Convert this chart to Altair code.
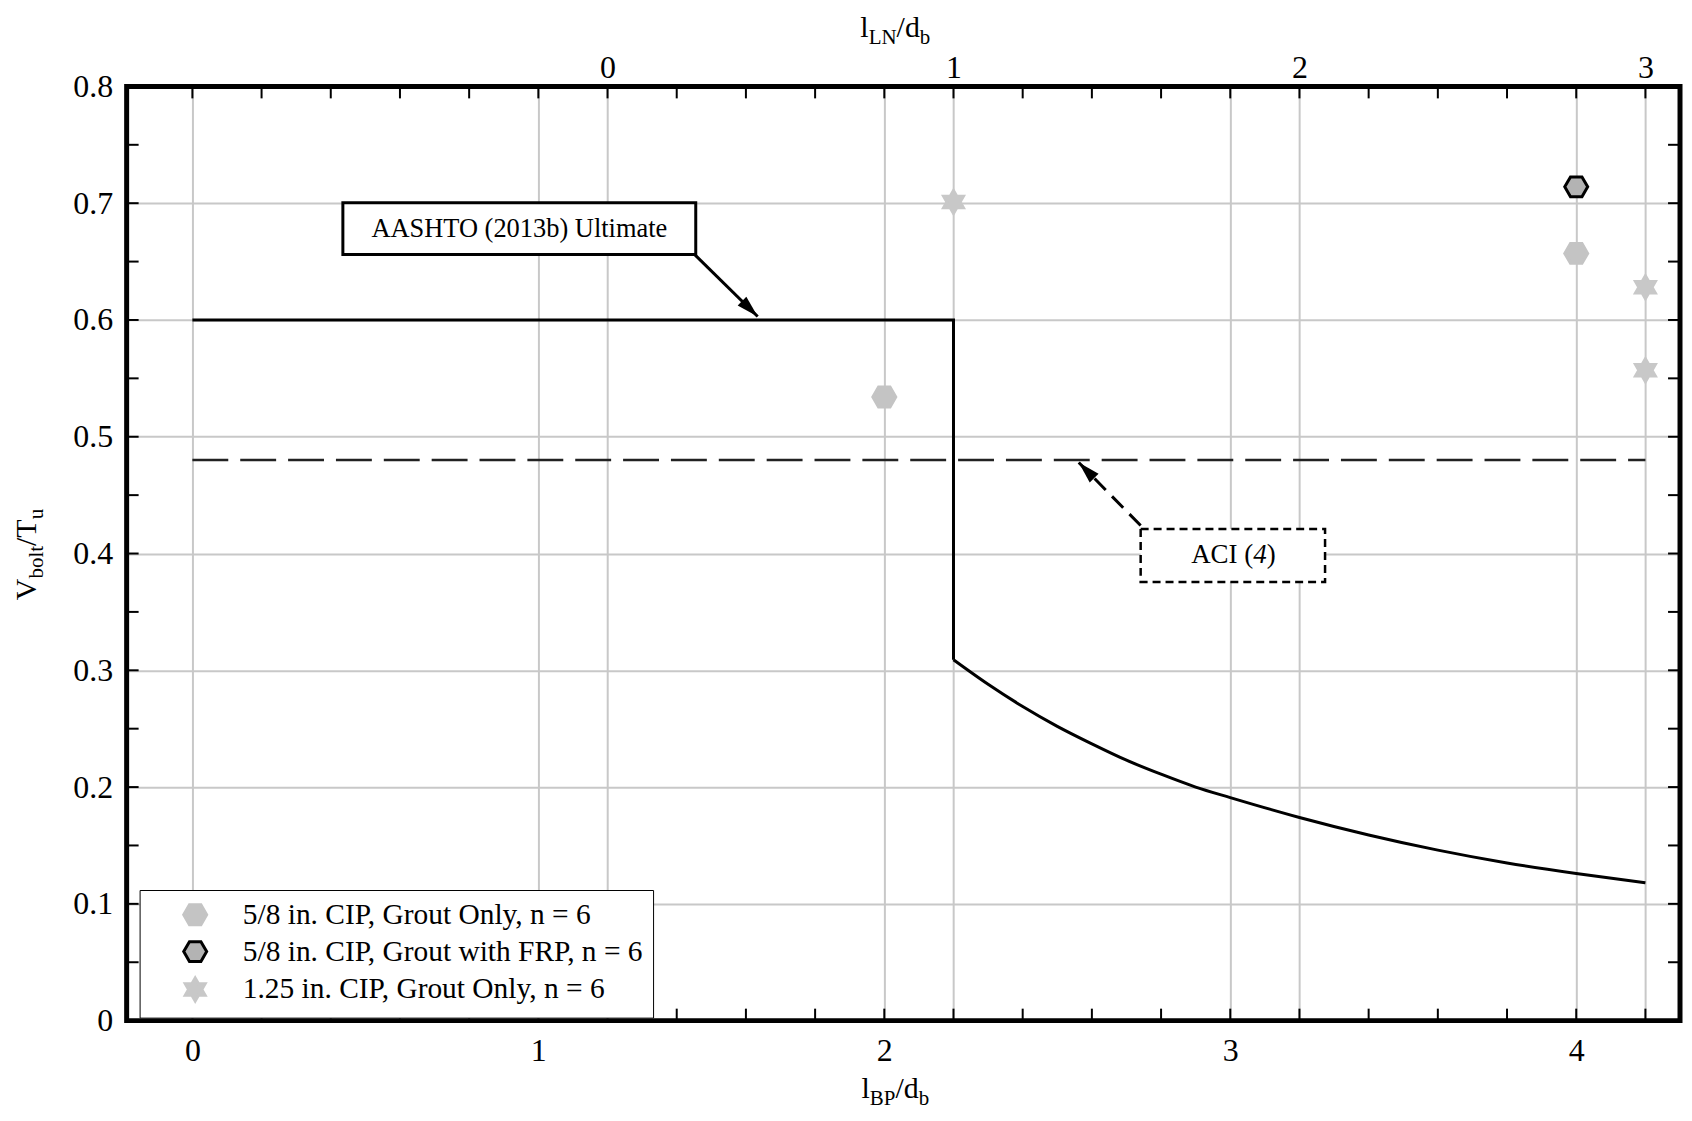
import math
import altair as alt
import pandas as pd

# ---------------- data ----------------
# AASHTO (2013b) Ultimate: constant part, then the decaying curve
aashto_step_x = [0.0, 2.2, 2.2]
aashto_step_y = [0.6, 0.6, 0.309]
aashto_curve_x = [2.2, 2.3, 2.4, 2.5, 2.6, 2.7, 2.8, 2.9, 3.0, 3.2, 3.4, 3.6, 3.8, 4.0, 4.2]
aashto_curve_y = [0.309, 0.288, 0.269, 0.252, 0.237, 0.223, 0.211, 0.200, 0.191, 0.174, 0.159, 0.146, 0.135, 0.126, 0.118]

# ACI (4) level
aci_x = [0.0, 4.2]
aci_y = [0.48, 0.48]

series_names = [
    "5/8 in. CIP, Grout Only, n = 6",
    "5/8 in. CIP, Grout with FRP, n = 6",
    "1.25 in. CIP, Grout Only, n = 6",
]
s1_x = [2.0, 4.0]
s1_y = [0.534, 0.657]
s2_x = [4.0]
s2_y = [0.714]
s3_x = [2.2, 4.2, 4.2]
s3_y = [0.701, 0.628, 0.557]

bottom_tick_values = [0, 1, 2, 3, 4]
top_offset = 1.2                        # l_LN/d_b = l_BP/d_b - 1.2
top_tick_values = [1.2, 2.2, 3.2, 4.2]  # l_LN/d_b = 0, 1, 2, 3
y_tick_values = [0.0, 0.1, 0.2, 0.3, 0.4, 0.5, 0.6, 0.7, 0.8]
minor_x = [round(0.2 * i, 1) for i in range(22)]
minor_y = [round(0.05 * i, 2) for i in range(17)]

aashto_label = "AASHTO  (2013b) Ultimate"
aashto_box = {"x": [0.435], "x2": [1.455], "y": [0.656], "y2": [0.7003]}
aashto_text_pos = {"x": [0.945], "y": [0.678]}
aashto_arrow = {"x": [1.452], "y": [0.656], "x2": [1.634], "y2": [0.603]}

aci_box = {"x": [2.741], "x2": [3.274], "y": [0.3757], "y2": [0.421]}
aci_text_pos = {"x": [3.009], "y": [0.399]}
aci_arrow = {"x": [2.741], "y": [0.424], "x2": [2.562], "y2": [0.478]}

# ---------------- layout ----------------
W, H = 1558, 937
XMIN, XMAX = -0.19, 4.3
YMIN, YMAX = 0.0, 0.8
FONT = "Liberation Serif"
GRID = "#c8c8c8"

xs = alt.Scale(domain=[XMIN, XMAX], nice=False, zero=False)
ys = alt.Scale(domain=[YMIN, YMAX], nice=False, zero=False)

one = pd.DataFrame({"a": [0]})

common_axis = dict(
    title=None, grid=True, gridColor=GRID, gridWidth=2, ticks=False, tickSize=0,
    domain=False, labelFont=FONT, labelFontSize=32, labelColor="black",
    labelFlush=False, labelOverlap=False, labelBound=False,
)
bottom_axis = alt.Axis(orient="bottom", values=bottom_tick_values, format="d",
                       labelPadding=15, **common_axis)
top_axis = alt.Axis(orient="top", values=top_tick_values,
                    labelExpr=f"format(datum.value - {top_offset}, 'd')",
                    labelPadding=2, **common_axis)
left_axis = alt.Axis(orient="left", values=y_tick_values,
                     labelExpr="datum.value == 0 ? '0' : format(datum.value, '.1f')",
                     labelPadding=14, **common_axis)

# ---------------- layers ----------------
step_df = pd.DataFrame({"x": aashto_step_x, "y": aashto_step_y, "i": list(range(len(aashto_step_x)))})
aashto_step = alt.Chart(step_df).mark_line(color="black", strokeWidth=3).encode(
    x=alt.X("x:Q", scale=xs, axis=bottom_axis),
    y=alt.Y("y:Q", scale=ys, axis=left_axis),
    order=alt.Order("i:Q"),
)
curve_df = pd.DataFrame({"x": aashto_curve_x, "y": aashto_curve_y})
aashto_curve = alt.Chart(curve_df).mark_line(color="black", strokeWidth=3, interpolate="monotone").encode(
    x=alt.X("x:Q", scale=xs, axis=None),
    y=alt.Y("y:Q", scale=ys, axis=None),
)

aci_df = pd.DataFrame({"x": aci_x, "y": aci_y})
aci_line = alt.Chart(aci_df).mark_line(color="#222222", strokeWidth=2.5, strokeDash=[36, 12]).encode(
    x=alt.X("x:Q", scale=xs, axis=top_axis),
    y=alt.Y("y:Q", scale=ys, axis=None),
)

# inward ticks
tick_style = dict(color="black", strokeWidth=2)
bx = pd.DataFrame({"v": minor_x})
by = pd.DataFrame({"v": minor_y})
ticks_bottom = alt.Chart(bx).mark_rule(**tick_style).encode(
    x=alt.X("v:Q", scale=xs, axis=None), y=alt.value(H), y2=alt.value(H - 12))
ticks_top = alt.Chart(bx).mark_rule(**tick_style).encode(
    x=alt.X("v:Q", scale=xs, axis=None), y=alt.value(0), y2=alt.value(12))
ticks_left = alt.Chart(by).mark_rule(**tick_style).encode(
    y=alt.Y("v:Q", scale=ys, axis=None), x=alt.value(0), x2=alt.value(12))
ticks_right = alt.Chart(by).mark_rule(**tick_style).encode(
    y=alt.Y("v:Q", scale=ys, axis=None), x=alt.value(W - 12), x2=alt.value(W))

# points
pts = pd.DataFrame({
    "x": s1_x + s2_x + s3_x,
    "y": s1_y + s2_y + s3_y,
    "series": [series_names[0]] * len(s1_x) + [series_names[1]] * len(s2_x) + [series_names[2]] * len(s3_x),
})
HEX = "M1,0L0.5,0.866L-0.5,0.866L-1,0L-0.5,-0.866L0.5,-0.866Z"
STAR6 = ("M0,-1L0.289,-0.5L0.866,-0.5L0.577,0L0.866,0.5L0.289,0.5L0,1"
         "L-0.289,0.5L-0.866,0.5L-0.577,0L-0.866,-0.5L-0.289,-0.5Z")
legend = alt.Legend(
    title=None, orient="none", legendX=13, legendY=806, padding=10, rowPadding=4,
    symbolOffset=31, labelOffset=33, labelFont=FONT, labelFontSize=29.5, labelColor="black",
    labelLimit=800, symbolSize=530, symbolStrokeWidth=3, strokeColor="black",
    fillColor="white", direction="vertical",
)
points = alt.Chart(pts).mark_point(filled=True, size=530, strokeWidth=3, opacity=1).encode(
    x=alt.X("x:Q", scale=xs, axis=None),
    y=alt.Y("y:Q", scale=ys, axis=None),
    fill=alt.Fill("series:N", scale=alt.Scale(domain=series_names, range=["#c4c4c4", "#b3b3b3", "#c8c8c8"]), legend=legend),
    stroke=alt.Stroke("series:N", scale=alt.Scale(domain=series_names, range=["#c4c4c4", "#000000", "#c8c8c8"]), legend=legend),
    shape=alt.Shape("series:N", scale=alt.Scale(domain=series_names, range=[HEX, HEX, STAR6]), legend=legend),
)

# annotations
ARROW = "M0,0L-0.45,1.6L0.45,1.6Z"
ppx = W / (XMAX - XMIN)
ppy = H / (YMAX - YMIN)


def arrow_angle(a):
    dx = (a["x2"][0] - a["x"][0]) * ppx
    dy = -(a["y2"][0] - a["y"][0]) * ppy
    return math.degrees(math.atan2(dx, -dy)) % 360


def box_layer(box, dash=None, sw=3):
    kw = dict(fill="white", stroke="black", strokeWidth=sw)
    if dash:
        kw["strokeDash"] = dash
    return alt.Chart(pd.DataFrame(box)).mark_rect(**kw).encode(
        x=alt.X("x:Q", scale=xs, axis=None), x2="x2:Q",
        y=alt.Y("y:Q", scale=ys, axis=None), y2="y2:Q")


def arrow_layers(a, dash=None):
    kw = dict(color="black", strokeWidth=3)
    if dash:
        kw["strokeDash"] = dash
    shaft = alt.Chart(pd.DataFrame(a)).mark_rule(**kw).encode(
        x=alt.X("x:Q", scale=xs, axis=None), x2="x2:Q",
        y=alt.Y("y:Q", scale=ys, axis=None), y2="y2:Q")
    head = alt.Chart(pd.DataFrame({"x": a["x2"], "y": a["y2"]})).mark_point(
        shape=ARROW, filled=True, color="black", size=760, opacity=1,
        angle=arrow_angle(a)).encode(
        x=alt.X("x:Q", scale=xs, axis=None), y=alt.Y("y:Q", scale=ys, axis=None))
    return [shaft, head]


aashto_rect = box_layer(aashto_box, sw=3)
aashto_txt = alt.Chart(pd.DataFrame({**aashto_text_pos, "t": [aashto_label]})).mark_text(
    font=FONT, fontSize=26.5, color="black", align="center", baseline="middle").encode(
    x=alt.X("x:Q", scale=xs, axis=None), y=alt.Y("y:Q", scale=ys, axis=None), text="t:N")

aci_rect = box_layer(aci_box, dash=[8, 5], sw=2.5)
aci_pieces = [("ACI (", "normal", 2.305), ("4", "italic", 0.5), (")", "normal", 0.333)]
ACI_FS = 27
aci_total = sum(p[2] for p in aci_pieces) * ACI_FS
aci_txt = []
off = -aci_total / 2
for txt, style, w in aci_pieces:
    aci_txt.append(alt.Chart(pd.DataFrame(aci_text_pos)).mark_text(
        text=txt, font=FONT, fontSize=ACI_FS, fontStyle=style, color="black",
        align="left", baseline="middle", dx=off).encode(
        x=alt.X("x:Q", scale=xs, axis=None), y=alt.Y("y:Q", scale=ys, axis=None)))
    off += w * ACI_FS

# axis titles with subscripts
WID = {'l': 0.278, 'B': 0.667, 'P': 0.556, '/': 0.278, 'd': 0.5, 'b': 0.5, 'L': 0.611,
       'N': 0.722, 'V': 0.722, 'o': 0.5, 't': 0.278, 'T': 0.611, 'u': 0.5}
TF, SF = 30, 21


def tw(text, size):
    return sum(WID.get(c, 0.5) for c in text) * size


def htitle(pieces, cx, base_y):
    total = sum(tw(t, SF if s else TF) for t, s in pieces)
    x = cx - total / 2
    out = []
    for t, s in pieces:
        fs = SF if s else TF
        out.append(alt.Chart(one).mark_text(
            text=t, font=FONT, fontSize=fs, color="black", align="left", baseline="alphabetic").encode(
            x=alt.value(x), y=alt.value(base_y + (7 if s else 0))))
        x += tw(t, fs)
    return out


def vtitle(pieces, cy, base_x):
    total = sum(tw(t, SF if s else TF) for t, s in pieces)
    y = cy + total / 2
    out = []
    for t, s in pieces:
        fs = SF if s else TF
        out.append(alt.Chart(one).mark_text(
            text=t, font=FONT, fontSize=fs, color="black", align="left", baseline="alphabetic",
            angle=270).encode(
            x=alt.value(base_x + (7 if s else 0)), y=alt.value(y)))
        y -= tw(t, fs)
    return out


bottom_title = htitle([("l", False), ("BP", True), ("/d", False), ("b", True)], W / 2 - 8, 1015)
top_title = htitle([("l", False), ("LN", True), ("/d", False), ("b", True)], W / 2 - 8, -50)
y_title = vtitle([("V", False), ("bolt", True), ("/T", False), ("u", True)], H / 2 + 1, -91)

frame = alt.Chart(one).mark_rect(fillOpacity=0, stroke="black", strokeWidth=5).encode(
    x=alt.value(0), x2=alt.value(W), y=alt.value(0), y2=alt.value(H))

layers = ([aashto_step, aashto_curve, aci_line, ticks_bottom, ticks_top, ticks_left, ticks_right, points,
           aashto_rect, aashto_txt, aci_rect] + aci_txt
          + arrow_layers(aashto_arrow) + arrow_layers(aci_arrow, dash=[16, 9])
          + bottom_title + top_title + y_title + [frame])

chart = alt.layer(*layers).resolve_axis(x="independent", y="independent").properties(
    width=W, height=H,
    autosize=alt.AutoSizeParams(type="none"),
    padding={"left": 119, "top": 77, "right": 4, "bottom": 90},
    background="white",
).configure_view(strokeWidth=0)

chart.save("out.html", embed_options={"renderer": "svg", "actions": False})
